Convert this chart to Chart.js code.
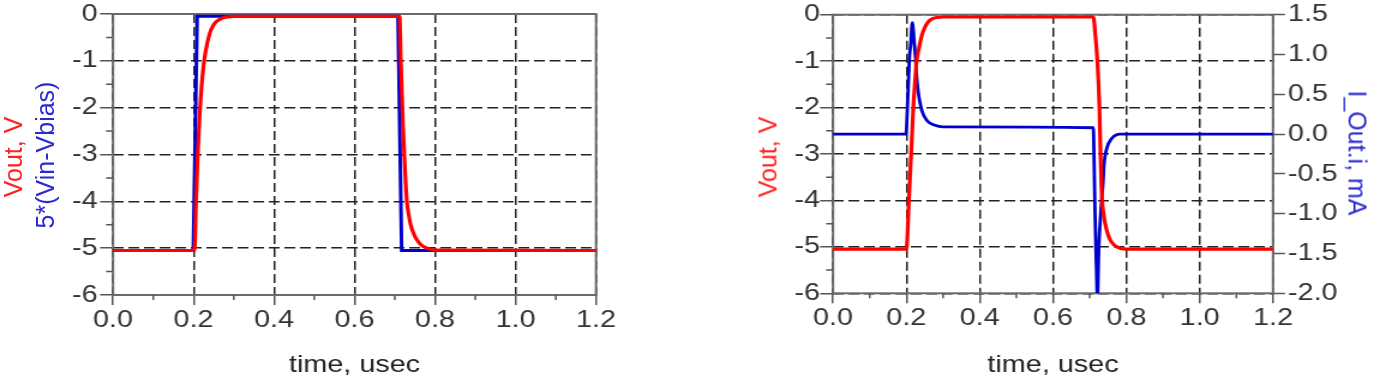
<!DOCTYPE html>
<html>
<head>
<meta charset="utf-8">
<script src="https://cdn.jsdelivr.net/npm/chart.js@4.4.1/dist/chart.umd.min.js"></script>
<style>
  html, body { margin:0; padding:0; background:#fff; width:1384px; height:382px; overflow:hidden; }
  .wrap { position:absolute; top:0; height:382px; transform-origin:0 0; }
  .ytitle { position:absolute; white-space:nowrap; font-family:'Liberation Sans', Arial, sans-serif; font-size:25px; line-height:1; }
</style>
</head>
<body>
<div id="wl" class="wrap" style="left:0px;width:540px;"><canvas id="cl"></canvas></div>
<div id="wr" class="wrap" style="left:690px;width:575px;"><canvas id="cr"></canvas></div>
<div class="ytitle" id="t1" style="color:#ff2020;">Vout, V</div>
<div class="ytitle" id="t2" style="color:#2a2ad0;">5*(Vin-Vbias)</div>
<div class="ytitle" id="t3" style="color:#ff2020;">Vout, V</div>
<div class="ytitle" id="t4" style="color:#2a2ad0;">I_Out.i, mA</div>
<script>
// ---------- data ----------
// left chart: time in usec
const leftVoutT = [0, 0.2, 0.203, 0.206, 0.21, 0.215, 0.22, 0.225, 0.23, 0.24, 0.25, 0.26, 0.27, 0.285, 0.3,
                   0.712, 0.715, 0.72, 0.725, 0.73, 0.735, 0.74, 0.75, 0.76, 0.77, 0.78, 0.8, 1.2];
const leftVoutV = [-5.05, -5.05, -4.98, -4.1, -3.1, -2.2, -1.55, -1.1, -0.8, -0.42, -0.23, -0.14, -0.09, -0.06, -0.05,
                   -0.05, -1.0, -2.3, -3.25, -4.0, -4.3, -4.52, -4.75, -4.88, -4.96, -5.0, -5.04, -5.05];
const leftVinT = [0, 0.1995, 0.209, 0.708, 0.717, 1.2];
const leftVinV = [-5.05, -5.05, -0.05, -0.05, -5.05, -5.05];

// right chart
const rightVoutT = [0, 0.2, 0.207, 0.213, 0.219, 0.224, 0.228, 0.235, 0.242, 0.25, 0.26, 0.27, 0.283, 0.3,
                    0.71, 0.715, 0.721, 0.7266, 0.7295, 0.732, 0.735, 0.739, 0.745, 0.752, 0.76, 0.774, 0.8, 1.2];
const rightVoutV = [-5.05, -5.05, -4.0, -3.0, -2.0, -1.4, -1.0, -0.7, -0.45, -0.28, -0.15, -0.09, -0.06, -0.05,
                    -0.05, -0.4, -1.0, -2.0, -3.0, -3.7, -4.1, -4.35, -4.6, -4.78, -4.9, -5.0, -5.05, -5.05];
const rightIoutT = [0, 0.199, 0.2026, 0.208, 0.212, 0.2163, 0.2217, 0.2255, 0.228, 0.2327, 0.242, 0.2555, 0.278, 0.3,
                    0.71, 0.7115, 0.7145, 0.7185, 0.721, 0.725, 0.730, 0.7365, 0.739, 0.7465, 0.760, 0.783, 0.8, 1.2];
const rightIoutV = [0, 0, 0.3, 0.93, 1.14, 1.40, 1.14, 0.93, 0.72, 0.52, 0.30, 0.175, 0.11, 0.09,
                    0.08, -0.2, -1.0, -1.7, -2.05, -1.42, -1.0, -0.6, -0.39, -0.18, -0.055, 0.0, 0.0, 0.0];

// ticks
const xTicks = [0, 0.2, 0.4, 0.6, 0.8, 1.0, 1.2];
const xTickLabels = ['0.0', '0.2', '0.4', '0.6', '0.8', '1.0', '1.2'];
const xMinor = [0.1, 0.3, 0.5, 0.7, 0.9, 1.1];
const yTicks = [-6, -5, -4, -3, -2, -1, 0];
const yTickLabels = ['-6', '-5', '-4', '-3', '-2', '-1', '0'];
const yMinor = [-5.5, -4.5, -3.5, -2.5, -1.5, -0.5];
const y2Ticks = [-2.0, -1.5, -1.0, -0.5, 0.0, 0.5, 1.0, 1.5];
const y2TickLabels = ['-2.0', '-1.5', '-1.0', '-0.5', '0.0', '0.5', '1.0', '1.5'];

// ---------- styling ----------
const S = 1.2; // horizontal stretch of the reference picture
const FONT = "'Liberation Sans', Arial, sans-serif";
const RED = '#ff0000';
const BLUE = '#0000cc';
const TICKFONT = { family: FONT, size: 24, lineHeight: 1 };
document.getElementById('wl').style.transform = 'scaleX(' + S + ')';
document.getElementById('wr').style.transform = 'scaleX(' + S + ')';

function place(id, cx, cy, rot) {
  const el = document.getElementById(id);
  el.style.left = cx + 'px';
  el.style.top = cy + 'px';
  el.style.transform = 'translate(-50%,-50%) rotate(' + rot + 'deg)';
}
place('t1', 13, 157, -90);
place('t2', 45, 155, -90);
place('t3', 768, 157, -90);
place('t4', 1357, 153, 90);

function pts(t, v) { return t.map((x, i) => ({ x: x, y: v[i] })); }

const boxMinor = {
  id: 'boxMinor',
  beforeDatasetsDraw(chart, args, o) {
    const ctx = chart.ctx, a = chart.chartArea;
    ctx.save();
    ctx.setLineDash([]);
    ctx.strokeStyle = '#6a6a6a';
    ctx.lineWidth = 2;
    ctx.strokeRect(a.left, a.top, a.right - a.left, a.bottom - a.top);
    ctx.strokeStyle = '#555';
    ctx.lineWidth = 1.5;
    const xs = chart.scales.x, ys = chart.scales.y;
    ctx.beginPath();
    o.xMinor.forEach(v => {
      const px = xs.getPixelForValue(v);
      ctx.moveTo(px, a.bottom); ctx.lineTo(px, a.bottom + o.xLen);
    });
    o.yMinor.forEach(v => {
      const py = ys.getPixelForValue(v);
      ctx.moveTo(a.left, py); ctx.lineTo(a.left - o.yLen, py);
    });
    ctx.stroke();
    ctx.restore();
  }
};

function xScale() {
  return {
    type: 'linear', min: 0, max: 1.2,
    afterBuildTicks: s => { s.ticks = xTicks.map(v => ({ value: v })); },
    ticks: { callback: (v, i) => xTickLabels[i], font: TICKFONT, color: '#333', padding: 3, maxRotation: 0, autoSkip: false },
    grid: { color: '#222', lineWidth: 1.5, tickLength: 10, tickColor: '#555', tickWidth: 1.5, tickBorderDash: [] },
    border: { display: false, dash: [9, 4] },
    title: { display: true, text: 'time, usec', color: '#222', font: { family: FONT, size: 24, lineHeight: 1 }, padding: { top: 0, bottom: 5 } },
    afterFit: s => { s.height = 87; }
  };
}
function yScale(width, pad) {
  return {
    type: 'linear', position: 'left', min: -6, max: 0,
    afterBuildTicks: s => { s.ticks = yTicks.map(v => ({ value: v })); },
    ticks: { callback: (v, i) => yTickLabels[i], font: TICKFONT, color: '#333', padding: pad, autoSkip: false },
    grid: { color: '#222', lineWidth: 1.5, tickLength: 10.8, tickColor: '#555', tickWidth: 1.5, tickBorderDash: [] },
    border: { display: false, dash: [9, 4] },
    afterFit: s => { s.width = width; }
  };
}

new Chart(document.getElementById('cl'), {
  type: 'line',
  data: {
    datasets: [
      { label: 'Vout', data: pts(leftVoutT, leftVoutV), borderColor: RED, borderWidth: 3.2, pointRadius: 0, cubicInterpolationMode: 'monotone', fill: false },
      { label: '5*(Vin-Vbias)', data: pts(leftVinT, leftVinV), borderColor: BLUE, borderWidth: 3, pointRadius: 0, tension: 0, fill: false }
    ]
  },
  options: {
    responsive: true, maintainAspectRatio: false, animation: false,
    layout: { padding: { left: 0, right: 540 - 496.67, top: 12.3, bottom: 0 } },
    plugins: { legend: { display: false }, tooltip: { enabled: false },
      boxMinor: { xMinor: xMinor, yMinor: yMinor, xLen: 5, yLen: 5.8 } },
    scales: { x: xScale(), y: yScale(94.17, 2) }
  },
  plugins: [boxMinor]
});

const xr = xScale();
xr.afterFit = s => { s.height = 382 - 293.3; };
new Chart(document.getElementById('cr'), {
  type: 'line',
  data: {
    datasets: [
      { label: 'Vout', data: pts(rightVoutT, rightVoutV), yAxisID: 'y', borderColor: RED, borderWidth: 3.2, pointRadius: 0, cubicInterpolationMode: 'monotone', fill: false },
      { label: 'I_Out.i', data: pts(rightIoutT, rightIoutV), yAxisID: 'y2', borderColor: BLUE, borderWidth: 2.8, pointRadius: 0, cubicInterpolationMode: 'monotone', fill: false }
    ]
  },
  options: {
    responsive: true, maintainAspectRatio: false, animation: false,
    layout: { padding: { left: 0, right: 0, top: 14.7, bottom: 0 } },
    plugins: { legend: { display: false }, tooltip: { enabled: false },
      boxMinor: { xMinor: xMinor, yMinor: yMinor, xLen: 5, yLen: 5.8 } },
    scales: {
      x: xr,
      y: yScale(119.17, 0),
      y2: {
        type: 'linear', position: 'right', min: -2, max: 1.5,
        afterBuildTicks: s => { s.ticks = y2Ticks.map(v => ({ value: v })); },
        ticks: { callback: (v, i) => y2TickLabels[i], font: TICKFONT, color: '#333', padding: 2.5, autoSkip: false },
        grid: { drawOnChartArea: false, tickLength: 10, tickColor: '#555', tickWidth: 1.5, tickBorderDash: [] },
        border: { display: false },
        afterFit: s => { s.width = 575 - 485.83; }
      }
    }
  },
  plugins: [boxMinor]
});
</script>
</body>
</html>
